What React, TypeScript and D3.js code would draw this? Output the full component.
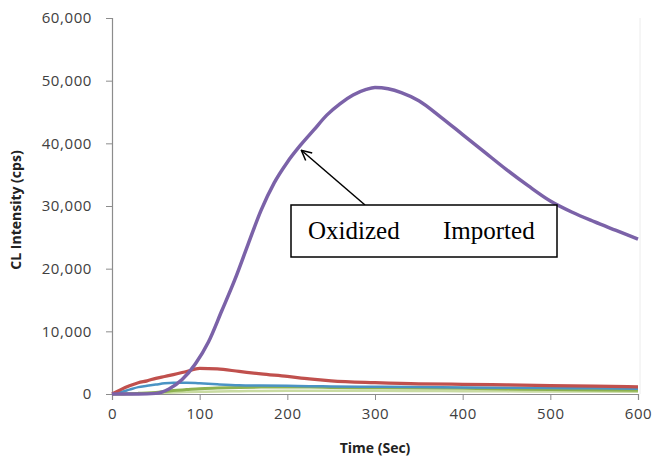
import React, { useEffect, useRef } from 'react';
import * as d3 from 'd3';

// time axis for the big (purple) curve
const purpleTime = [0, 30, 50, 65, 80, 95, 110, 125, 140, 155, 170, 185, 200, 215, 230, 245, 260, 275, 290, 300, 315, 330, 350, 375, 400, 425, 450, 475, 500, 525, 550, 575, 600];
const purpleVals = [0, 0, 100, 800, 2300, 4800, 8300, 13200, 18200, 23800, 29300, 33700, 37000, 39700, 42100, 44500, 46300, 47700, 48600, 48900, 48700, 48100, 46800, 44200, 41400, 38600, 35800, 33200, 30800, 29000, 27500, 26100, 24700];

// time axis for the low curves
const lowTime = [0, 10, 20, 30, 40, 50, 60, 70, 85, 100, 120, 145, 170, 200, 225, 250, 300, 350, 400, 450, 500, 550, 600];
const redVals = [0, 700, 1300, 1800, 2100, 2500, 2800, 3100, 3600, 4100, 4000, 3600, 3200, 2800, 2400, 2100, 1800, 1600, 1550, 1450, 1350, 1250, 1150];
const blueVals = [0, 300, 700, 1100, 1300, 1500, 1700, 1800, 1800, 1700, 1550, 1400, 1350, 1300, 1250, 1200, 1150, 1100, 1050, 1000, 950, 900, 850];
const greenVals = [0, 0, 50, 100, 150, 250, 400, 550, 700, 850, 950, 1050, 1100, 1100, 1100, 1050, 1000, 950, 900, 800, 700, 650, 600];
const paleVals = [0, 0, 0, 50, 100, 150, 200, 250, 300, 350, 400, 450, 480, 500, 500, 500, 500, 480, 450, 420, 400, 380, 350];

const xTicks = [0, 100, 200, 300, 400, 500, 600];
const yTicks = [0, 10000, 20000, 30000, 40000, 50000, 60000];

// where the callout arrow points on the purple curve
const arrowTip = { t: 216, v: 38900 };

export default function App() {
  const ref = useRef<SVGSVGElement>(null);

  useEffect(() => {
    const width = 654;
    const height = 461;
    const margin = { top: 18, right: 16, bottom: 67, left: 112 };
    const w = width - margin.left - margin.right;
    const h = height - margin.top - margin.bottom;

    const svg = d3.select(ref.current);
    svg.selectAll('*').remove();

    const x = d3.scaleLinear().domain([0, 600]).range([0, w]);
    const y = d3.scaleLinear().domain([0, 60000]).range([h, 0]);

    const defs = svg.append('defs');
    defs.append('marker')
      .attr('id', 'arrowhead')
      .attr('viewBox', '0 0 12 12')
      .attr('refX', 11)
      .attr('refY', 6)
      .attr('markerWidth', 12)
      .attr('markerHeight', 12)
      .attr('markerUnits', 'userSpaceOnUse')
      .attr('orient', 'auto')
      .append('path')
      .attr('d', 'M1,1 L11,6 L1,11')
      .attr('fill', 'none')
      .attr('stroke', '#000')
      .attr('stroke-width', 1.5);

    const g = svg.append('g').attr('transform', `translate(${margin.left},${margin.top})`);

    // faint plot border on the right
    g.append('line')
      .attr('x1', w + 2).attr('x2', w + 2)
      .attr('y1', 0).attr('y2', h)
      .attr('stroke', '#ececec');

    const fmt = d3.format(',');
    const yAxis = g.append('g')
      .call(d3.axisLeft(y).tickValues(yTicks).tickFormat((d) => fmt(d as number)).tickSize(6).tickPadding(14));
    const xAxis = g.append('g')
      .attr('transform', `translate(0,${h})`)
      .call(d3.axisBottom(x).tickValues(xTicks).tickSize(6).tickPadding(8));

    [xAxis, yAxis].forEach((ax) => {
      ax.select('.domain').attr('stroke', '#8c8c8c').attr('stroke-width', 1.2);
      ax.selectAll('.tick line').attr('stroke', '#8c8c8c');
      ax.selectAll('.tick text')
        .attr('fill', '#404040')
        .style('font-family', '"Open Sans", sans-serif')
        .style('font-size', '15px')
        .style('letter-spacing', '0.6px');
    });

    const line = d3.line<[number, number]>()
      .x((d) => x(d[0]))
      .y((d) => y(d[1]))
      .curve(d3.curveMonotoneX);

    const series = [
      { t: lowTime, v: paleVals, color: '#c9dba2', width: 2.5 },
      { t: lowTime, v: greenVals, color: '#8db24f', width: 3 },
      { t: lowTime, v: blueVals, color: '#4a93c4', width: 2.5 },
      { t: lowTime, v: redVals, color: '#c0504d', width: 3.2 },
      { t: purpleTime, v: purpleVals, color: '#7b62a8', width: 3.5 },
    ];

    series.forEach((s) => {
      const pts = s.t.map((t, i) => [t, s.v[i]] as [number, number]);
      g.append('path')
        .datum(pts)
        .attr('d', line)
        .attr('fill', 'none')
        .attr('stroke', s.color)
        .attr('stroke-width', s.width)
        .attr('stroke-linejoin', 'round');
    });

    // callout box
    const box = { x: 291 - margin.left, y: 205 - margin.top, w: 266, h: 52 };
    g.append('line')
      .attr('x1', box.x + 74).attr('y1', box.y)
      .attr('x2', x(arrowTip.t)).attr('y2', y(arrowTip.v))
      .attr('stroke', '#000')
      .attr('stroke-width', 1.5)
      .attr('marker-end', 'url(#arrowhead)');
    g.append('rect')
      .attr('x', box.x).attr('y', box.y)
      .attr('width', box.w).attr('height', box.h)
      .attr('fill', '#fff')
      .attr('stroke', '#000')
      .attr('stroke-width', 1.5);
    const label = g.append('text')
      .attr('y', box.y + 34)
      .style('font-family', '"Liberation Serif", "Times New Roman", serif')
      .style('font-size', '25px')
      .attr('fill', '#000');
    label.append('tspan').attr('x', box.x + 17).text('Oxidized');
    label.append('tspan').attr('x', box.x + 152).text('Imported');

    // axis titles
    g.append('text')
      .attr('x', w / 2)
      .attr('y', h + 59)
      .attr('text-anchor', 'middle')
      .style('font-family', '"Open Sans", sans-serif')
      .style('font-weight', 'bold')
      .style('font-size', '14px')
      .attr('fill', '#222')
      .text('Time (Sec)');

    g.append('text')
      .attr('transform', `translate(${21 - margin.left},${h / 2 + 4}) rotate(-90)`)
      .attr('text-anchor', 'middle')
      .style('font-family', '"Open Sans", sans-serif')
      .style('font-weight', 'bold')
      .style('font-size', '14px')
      .attr('fill', '#222')
      .text('CL Intensity (cps)');
  }, []);

  return (
    <svg
      ref={ref}
      width={654}
      height={461}
      style={{ position: 'absolute', left: 0, top: 0, background: '#fff' }}
    />
  );
}
